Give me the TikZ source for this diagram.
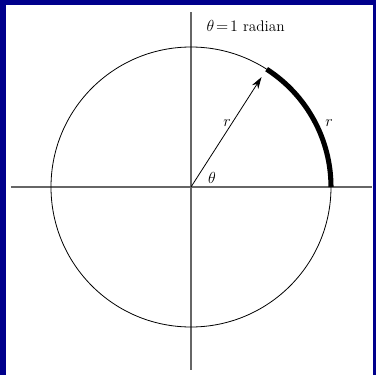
\documentclass[tikz,border=0pt]{standalone}
\usetikzlibrary{arrows.meta}
\definecolor{frameblue}{RGB}{0,0,140}
\begin{document}
\begin{tikzpicture}[x=0.75pt,y=-0.75pt]
\fill[frameblue] (0,0) rectangle (376,375);
\fill[white] (6,5) rectangle (373,375);
\coordinate (O) at (191,187);
\coordinate (ytop) at (191,12);
\coordinate (ybot) at (191,370);
\coordinate (xleft) at (11,187);
\coordinate (xright) at (372,187);
\coordinate (A) at (331,187);
\coordinate (P) at (266.6,69.2);
\draw[gray!80!black, line width=0.8pt] (ytop) -- (ybot);
\draw[gray!80!black, line width=0.8pt] (xleft) -- (xright);
\draw[line width=0.6pt] (O) circle[radius=140];
\draw[line width=3.8pt] (A) arc[start angle=0, end angle=-57.3, radius=140];
\draw[-{Stealth[length=9pt,width=5.5pt]}, line width=0.6pt, shorten >=7pt] (O) -- (P);
\node[font=\fontsize{13}{15}\selectfont] (rin) at (227,123) {$r$};
\node[font=\fontsize{13}{15}\selectfont] (rarc) at (329,123) {$r$};
\node[font=\fontsize{13}{15}\selectfont] (th) at (212,178) {$\theta$};
\node[anchor=west, font=\fontsize{11.5}{13}\selectfont] (title) at (202,26) {$\theta\!=\!1$ radian};
\end{tikzpicture}
\end{document}
